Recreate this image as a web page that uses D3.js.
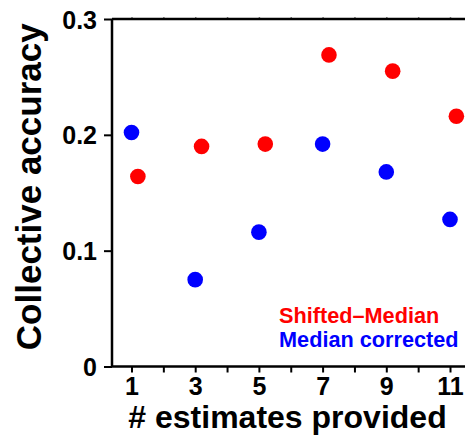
<!DOCTYPE html>
<html>
<head>
<meta charset="utf-8">
<script src="https://cdn.jsdelivr.net/npm/d3@7"></script>
<style>
  body { margin: 0; background: #fff; }
  svg { display: block; font-family: "Liberation Sans", Arial, Helvetica, sans-serif; font-weight: bold; }
</style>
</head>
<body>
<script>
// data
const estimates = [1, 3, 5, 7, 9, 11];
const shiftedMedian = [0.164, 0.190, 0.192, 0.269, 0.255, 0.216];
const medianCorrected = [0.202, 0.075, 0.116, 0.192, 0.168, 0.127];
const xTicks = [1, 2, 3, 4, 5, 6, 7, 8, 9, 10, 11];
const xTickLabels = ['1', '', '3', '', '5', '', '7', '', '9', '', '11'];
const yTicks = [0, 0.1, 0.2, 0.3];
const yTickLabels = ['0', '0.1', '0.2', '0.3'];
const seriesNames = ['Shifted\u2013Median', 'Median corrected'];
const seriesColors = ['#ff0000', '#0000ff'];

const W = 465, H = 441;
const plotLeft = 112, plotRight = 465, plotTop = 19, plotBottom = 366.5;

const svg = d3.select('body').append('svg')
  .attr('width', W)
  .attr('height', H);

// x: 1 sits at 131.5, 11 at 450
const x = d3.scaleLinear().domain([1, 11]).range([131.5, 450]);
const y = d3.scaleLinear().domain([0, 0.3]).range([plotBottom, plotTop]);

// bottom axis
const xAxis = svg.append('g')
  .attr('transform', `translate(0,${plotBottom})`)
  .call(d3.axisBottom(x).tickValues(xTicks).tickSize(6).tickPadding(5)
    .tickFormat((d, i) => xTickLabels[i]));
xAxis.select('.domain').remove();
xAxis.append('line')
  .attr('x1', plotLeft).attr('x2', plotRight)
  .attr('stroke', '#000').attr('stroke-width', 2.5);
xAxis.selectAll('.tick line').attr('stroke-width', 2);
xAxis.selectAll('.tick text')
  .attr('fill', '#000')
  .style('font-size', '25px')
  .style('font-weight', 'bold');

// top frame line with tiny ticks
const topAxis = svg.append('g')
  .attr('transform', `translate(0,${plotTop})`)
  .call(d3.axisTop(x).tickValues(xTicks).tickSize(1.5).tickFormat(''));
topAxis.select('.domain').remove();
topAxis.append('line')
  .attr('x1', plotLeft).attr('x2', plotRight)
  .attr('stroke', '#000').attr('stroke-width', 2.5);
topAxis.selectAll('.tick line').attr('stroke-width', 1.5);

// left axis
const yAxis = svg.append('g')
  .attr('transform', `translate(${plotLeft},0)`)
  .call(d3.axisLeft(y).tickValues(yTicks).tickSize(8).tickPadding(7)
    .tickFormat((d, i) => yTickLabels[i]));
yAxis.select('.domain').remove();
yAxis.append('line')
  .attr('y1', plotTop).attr('y2', plotBottom)
  .attr('stroke', '#000').attr('stroke-width', 2.5);
yAxis.selectAll('.tick line').attr('stroke-width', 2);
yAxis.selectAll('.tick text')
  .attr('fill', '#000')
  .attr('dy', '0.36em')
  .style('font-size', '25px')
  .style('font-weight', 'bold');

// points: red dodged a bit to the right
svg.append('g').selectAll('circle')
  .data(estimates)
  .join('circle')
  .attr('cx', d => x(d + 0.2))
  .attr('cy', (d, i) => y(shiftedMedian[i]))
  .attr('r', 7.8)
  .attr('fill', seriesColors[0]);

svg.append('g').selectAll('circle')
  .data(estimates)
  .join('circle')
  .attr('cx', d => x(d))
  .attr('cy', (d, i) => y(medianCorrected[i]))
  .attr('r', 7.8)
  .attr('fill', seriesColors[1]);

// legend
svg.append('g').selectAll('text')
  .data(seriesNames)
  .join('text')
  .attr('x', 279)
  .attr('y', (d, i) => 322.5 + i * 24.5)
  .attr('fill', (d, i) => seriesColors[i])
  .style('font-size', '21.7px')
  .text(d => d);

// axis titles
svg.append('text')
  .attr('x', (plotLeft + plotRight) / 2 - 1)
  .attr('y', 428)
  .attr('text-anchor', 'middle')
  .style('font-size', '32px')
  .text('# estimates provided');

svg.append('text')
  .attr('transform', `translate(41,${(plotTop + plotBottom) / 2 - 6}) rotate(-90)`)
  .attr('text-anchor', 'middle')
  .style('font-size', '35px')
  .text('Collective accuracy');
</script>
</body>
</html>
